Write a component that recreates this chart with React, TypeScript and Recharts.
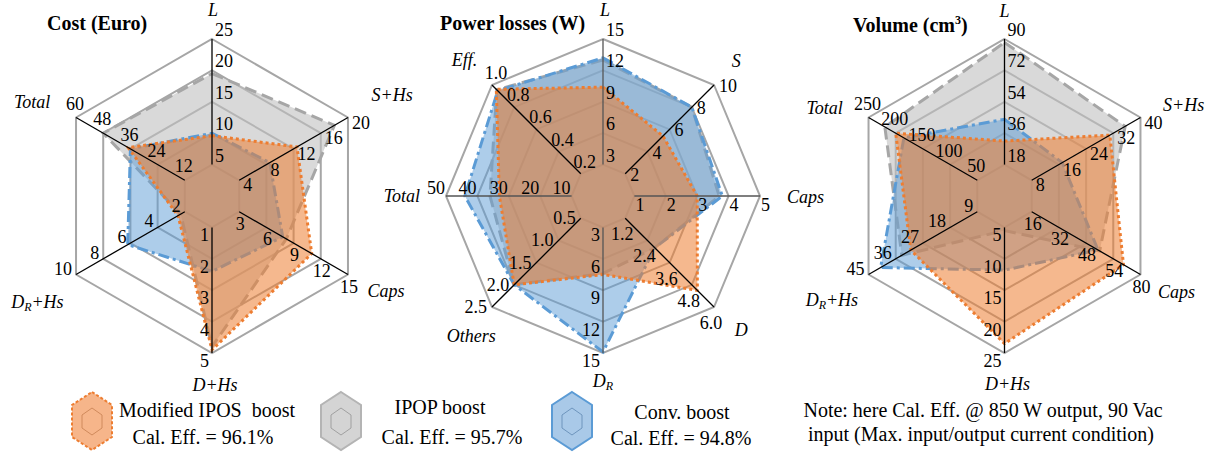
import React from "react";
import { RadarChart, Radar, PolarGrid, PolarAngleAxis, PolarRadiusAxis } from "recharts";

const FONT = '"Liberation Serif", "Times New Roman", serif';
const R_OUT = 157; // outer ring radius (px)
const R_AXIS = 182; // axis lines run past the outer ring
const EXT = R_AXIS / R_OUT;
const RINGS = [0.2, 0.4, 0.6, 0.8, 1];

// Cost (Euro)
const costAxes = ["L", "S+Hs", "Caps", "D+Hs", "D_R+Hs", "Total"];
const costMax = [25, 20, 15, 5, 10, 60];
const costTicks = [
  ["5", "10", "15", "20", "25"],
  ["4", "8", "12", "16", "20"],
  ["3", "6", "9", "12", "15"],
  ["1", "2", "3", "4", "5"],
  ["2", "4", "6", "8", "10"],
  ["12", "24", "36", "48", "60"],
];
const costIpos = [9.6, 12.5, 11, 4.9, 2.5, 37];
const costIpop = [19.5, 18, 8.2, 4.8, 2.3, 48];
const costConv = [10, 8.5, 7.8, 2.4, 6.2, 36];

// Power losses (W)
const lossAxes = ["L", "S", "Caps", "D", "D_R", "Others", "Total", "Eff."];
const lossMax = [15, 10, 5, 6, 15, 2.5, 50, 1];
const lossTicks = [
  ["3", "6", "9", "12", "15"],
  ["2", "4", "6", "8", "10"],
  ["1", "2", "3", "4", "5"],
  ["1.2", "2.4", "3.6", "4.8", "6.0"],
  ["3", "6", "9", "12", "15"],
  ["0.5", "1.0", "1.5", "2.0", "2.5"],
  ["10", "20", "30", "40", "50"],
  ["0.2", "0.4", "0.6", "0.8", "1.0"],
];
const lossIpos = [10.4, 5.4, 3.0, 5.1, 7.5, 2.0, 33, 0.961];
const lossIpop = [13, 8, 3.7, 2.8, 7.4, 2.0, 36, 0.957];
const lossConv = [13.2, 8, 3.8, 2.8, 14.9, 2.0, 44, 0.948];

// Volume (cm3)
const volAxes = ["L", "S+Hs", "Caps", "D+Hs", "D_R+Hs", "Total"];
const volMax = [90, 40, 80, 25, 45, 250];
const volTicks = [
  ["18", "36", "54", "72", "90"],
  ["8", "16", "24", "32", "40"],
  ["16", "32", "48", "54", "80"],
  ["5", "10", "15", "20", "25"],
  ["9", "18", "27", "36", "45"],
  ["50", "100", "150", "200", "250"],
];
const volIpos = [31.5, 31, 70, 23.5, 31, 200];
const volIpop = [88, 35.5, 56, 5.5, 34, 220];
const volConv = [44, 17, 55, 11.8, 41, 185];

// where the ring numbers sit, by axis direction: [anchor, dx, dy]
const TICK_POS: Record<string, [string, number, number]> = {
  "90": ["start", 3, -9],
  "45": ["start", 5, 1],
  "30": ["start", 4, 5],
  "0": ["start", 1, 9],
  "-30": ["middle", 1, 12],
  "-45": ["middle", -3, 16],
  "-90": ["end", -3, 8],
  "-135": ["end", -5, 0],
  "-150": ["end", -4, -6],
  "180": ["end", -1, -8],
  "150": ["middle", -1, -14],
  "135": ["middle", 4, -12],
};

// axis name placement per chart, relative to the axis end
const costNamePos: [string, number, number][] = [
  ["middle", 1, -4], ["start", 2, -10], ["start", -2, 4],
  ["middle", 3, 7], ["middle", -17, 15], ["end", -4, -3],
];
const lossNamePos: [string, number, number][] = [
  ["middle", 2, -4], ["start", 0, -6], ["start", 2, 1], ["start", 3, 5],
  ["middle", 0, 3], ["middle", -3, 11], ["end", -1, 0], ["end", 3, -7],
];
const volNamePos: [string, number, number][] = [
  ["middle", 0, -3], ["start", 1, 0], ["start", -4, 5],
  ["middle", 3, 6], ["middle", -15, 13], ["end", -4, 3],
];

const norm = (a: number) => {
  const v = ((a % 360) + 540) % 360 - 180;
  return v === -180 ? 180 : v;
};

function nameParts(name: string) {
  const [a, b] = name.split("_R");
  if (b === undefined) return name;
  return [
    <tspan key="a">{a}</tspan>,
    <tspan key="s" fontSize={12} dy={5}>R</tspan>,
    b ? <tspan key="b" dy={-5}>{b}</tspan> : null,
  ];
}

function Spider({ axes, max, ticks, ipos, ipop, conv, namePos, cx, straightColor = "#000" }: any) {
  const n = axes.length;
  const data = axes.map((a: string, i: number) => ({
    axis: a,
    ipos: ipos[i] / max[i],
    ipop: ipop[i] / max[i],
    conv: conv[i] / max[i],
  }));

  const renderName = (p: any) => {
    const i = p.index;
    const rad = (p.payload.coordinate * Math.PI) / 180;
    const x0 = p.x - 8 * Math.cos(rad);
    const y0 = p.y + 8 * Math.sin(rad);
    const [anchor, dx, dy] = namePos[i];
    return (
      <text x={x0 + dx} y={y0 + dy} textAnchor={anchor} dominantBaseline="central"
        fontSize={18} fontStyle="italic" fontFamily={FONT} fill="#000">
        {nameParts(axes[i])}
      </text>
    );
  };

  return (
    <div style={{ position: "absolute", left: 0, top: 0 }}>
      <RadarChart width={1223} height={400} data={data} cx={cx} cy={196}
        outerRadius={R_AXIS} margin={{ top: 0, right: 0, bottom: 0, left: 0 }}>
        <PolarGrid gridType="polygon" radialLines={false} stroke="#a6a6a6" strokeWidth={2} />
        <PolarRadiusAxis domain={[0, EXT]} ticks={RINGS} type="number"
          tick={false} axisLine={false} tickLine={false} />
        <PolarAngleAxis dataKey="axis" axisLine={false} tickLine={false} tick={renderName} />
        <Radar dataKey="ipop" stroke="#a6a6a6" strokeWidth={3} strokeDasharray="12 6"
          fill="#bfbfbf" fillOpacity={0.6} isAnimationActive={false} />
        <Radar dataKey="conv" stroke="#5b9bd5" strokeWidth={3} strokeDasharray="11 4 3 4"
          fill="#5b9bd5" fillOpacity={0.5} isAnimationActive={false} />
        <Radar dataKey="ipos" stroke="#ed7d31" strokeWidth={3} strokeDasharray="3 3"
          fill="#ed7d31" fillOpacity={0.55} isAnimationActive={false} />
        {/* invisible series so every per-axis radius scale gets registered */}
        {axes.map((a: string, i: number) => (
          <Radar key={`h${i}`} radiusAxisId={`ax${i}`} dataKey="ipos" stroke="none"
            fill="none" isAnimationActive={false} />
        ))}
        {axes.map((a: string, i: number) => {
          const angle = 90 - (i * 360) / n;
          const dir = norm(angle);
          const [anchor, dx, dy] = TICK_POS[String(dir)];
          const col = dir % 90 === 0 ? straightColor : "#000";
          return (
            <PolarRadiusAxis key={a} radiusAxisId={`ax${i}`} angle={angle}
              domain={[0, EXT]} ticks={RINGS} type="number" tickLine={false}
              allowDataOverflow
              axisLine={{ stroke: col, strokeWidth: 1.3 }}
              tick={(p: any) => (
                <text x={p.x + dx} y={p.y + dy} textAnchor={anchor} dominantBaseline="central"
                  fontSize={18} fontFamily={FONT} fill="#000">
                  {ticks[i][Math.round(p.payload.value * 5) - 1]}
                </text>
              )} />
          );
        })}
      </RadarChart>
    </div>
  );
}

function Title({ left, top, children }: any) {
  return (
    <div style={{ position: "absolute", left, top, fontFamily: FONT, fontWeight: "bold",
      fontSize: 20, lineHeight: "20px", whiteSpace: "nowrap" }}>
      {children}
    </div>
  );
}

function HexIcon({ left, fill, stroke, dash, inner }: any) {
  return (
    <svg width={46} height={62} style={{ position: "absolute", left, top: 390 }}>
      <polygon points="22,2 42,15 42,47 22,60 2,47 2,15" fill={fill} stroke={stroke}
        strokeWidth={2} strokeDasharray={dash} />
      <polygon points="22,18 32,25 32,38 22,45 12,38 12,25" fill="none" stroke={inner} strokeWidth={1} />
    </svg>
  );
}

function Line2({ center, top, text }: any) {
  return (
    <div style={{ position: "absolute", left: center - 220, top, width: 440, textAlign: "center",
      fontSize: 20, lineHeight: "22px", whiteSpace: "pre", fontFamily: FONT }}>
      {text}
    </div>
  );
}

export default function App() {
  return (
    <div style={{ position: "absolute", left: 0, top: 0, width: 1223, height: 453,
      background: "#fff", overflow: "hidden", fontFamily: FONT, color: "#000" }}>
      <Spider axes={costAxes} max={costMax} ticks={costTicks}
        ipos={costIpos} ipop={costIpop} conv={costConv} namePos={costNamePos} cx={212} />
      <Spider axes={lossAxes} max={lossMax} ticks={lossTicks}
        ipos={lossIpos} ipop={lossIpop} conv={lossConv} namePos={lossNamePos} cx={603}
        straightColor="#555" />
      <Spider axes={volAxes} max={volMax} ticks={volTicks}
        ipos={volIpos} ipop={volIpop} conv={volConv} namePos={volNamePos} cx={1004.5} />

      <Title left={47} top={13}>Cost (Euro)</Title>
      <Title left={440} top={13}>Power losses (W)</Title>
      <Title left={853} top={10}>Volume (cm<sup style={{ fontSize: 12 }}>3</sup>)</Title>

      <HexIcon left={70} fill="#f6b58a" stroke="#ed7d31" dash="3 2" inner="#d08a5c" />
      <Line2 center={207} top={399} text={"Modified IPOS  boost"} />
      <Line2 center={203} top={426} text={"Cal. Eff. = 96.1%"} />

      <HexIcon left={319} fill="#d4d4d4" stroke="#b4b4b4" inner="#a0a0a0" />
      <Line2 center={440} top={396} text={"IPOP boost"} />
      <Line2 center={452} top={426} text={"Cal. Eff. = 95.7%"} />

      <HexIcon left={550} fill="#a9c9e8" stroke="#5b9bd5" inner="#6e95bd" />
      <Line2 center={682} top={401} text={"Conv. boost"} />
      <Line2 center={681} top={427} text={"Cal. Eff. = 94.8%"} />

      <Line2 center={983} top={399} text={"Note: here Cal. Eff. @ 850 W output, 90 Vac"} />
      <Line2 center={981} top={423} text={"input (Max. input/output current condition)"} />
    </div>
  );
}
